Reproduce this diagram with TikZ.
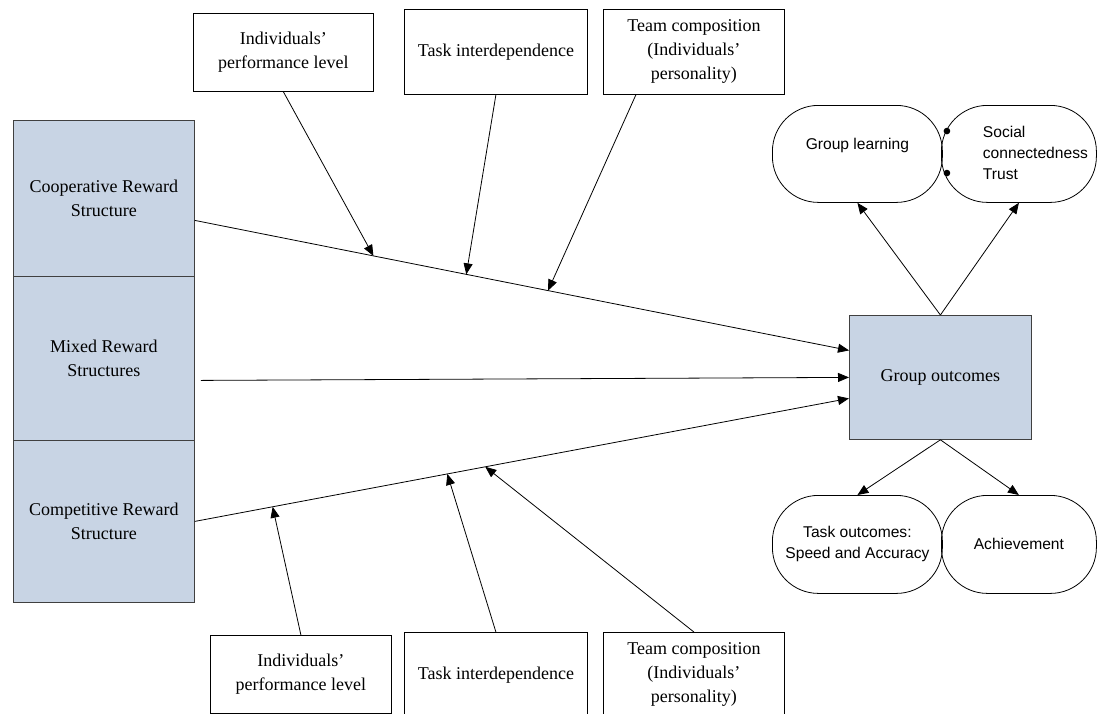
\documentclass[tikz,border=0pt]{standalone}
\usepackage{fontspec}
\setmainfont{Liberation Serif}
\newfontfamily\arialfont{Liberation Sans}
\usetikzlibrary{arrows.meta}
\definecolor{boxblue}{RGB}{200,212,228}
\newcommand{\listdot}{\makebox[33pt][l]{\hspace{-7pt}\raisebox{-2.5pt}{\fontsize{24}{21}\selectfont\textbullet}}}

\begin{document}
\begin{tikzpicture}[x=1pt, y=-1pt,
	every node/.style={font=\fontsize{18}{24}\selectfont, align=center, inner sep=0pt},
	blockbox/.style={draw=black!75, fill=boxblue, line width=0.8pt, minimum width=181pt, anchor=north west},
	factorbox/.style={draw, line width=0.8pt, minimum width=181pt, anchor=north west},
	oval/.style={draw, line width=0.8pt, rounded corners=46pt, minimum height=97pt, anchor=north west, font=\arialfont\fontsize{15.6}{21}\selectfont},
	arr/.style={-{Triangle[length=11pt, width=9pt]}, line width=0.8pt}]
\clip (0,0) rectangle (1098,713);

\node[blockbox, minimum height=156pt] (coop) at (13,120) {Cooperative Reward\\Structure};
\node[blockbox, minimum height=164pt] (mix) at (13,276) {Mixed Reward\\Structures};
\node[blockbox, minimum height=162pt] (comp) at (13,440) {Competitive Reward\\Structure};
\node[blockbox, minimum width=182pt, minimum height=124pt] (out) at (849,315) {Group outcomes};

\node[factorbox, minimum width=180pt, minimum height=78pt] (ti) at (193,13) {Individuals'\\performance level};
\node[factorbox, minimum width=183pt, minimum height=85pt] (tt) at (404,9) {Task interdependence};
\node[factorbox, minimum height=85pt] (tc) at (603,9) {Team composition\\(Individuals'\\personality)};
\node[factorbox, minimum height=78pt] (bi) at (210,635) {Individuals'\\performance level};
\node[factorbox, minimum width=183pt, minimum height=85pt] (bt) at (404,632) {Task interdependence};
\node[factorbox, minimum height=85pt] (bc) at (603,632) {Team composition\\(Individuals'\\personality)};

\node[oval, minimum width=170pt] (learn) at (772,105) {Group learning\\\mbox{}};
\node[oval, minimum width=155pt, align=left] (soc) at (941,105) {\listdot Social\\\hspace*{33pt}connectedness\\\listdot Trust};
\node[oval, minimum width=170pt, minimum height=98pt] (task) at (772,495) {Task outcomes:\\Speed and Accuracy};
\node[oval, minimum width=155pt, minimum height=98pt] (ach) at (941,495) {Achievement};

\draw[arr] ([yshift=-22pt]coop.east) -- ([yshift=27pt]out.west) coordinate[pos=0.273] (p1) coordinate[pos=0.415] (p2) coordinate[pos=0.54] (p3);
\draw[arr] ([xshift=6pt, yshift=-22pt]mix.east) -- (out.west);
\draw[arr] (comp.east) -- ([yshift=-21pt]out.west) coordinate[pos=0.119] (q1) coordinate[pos=0.386] (q2) coordinate[pos=0.444] (q3);

\draw[arr] (ti.south) -- (p1);
\draw[arr] (tt.south) -- (p2);
\draw[arr] ([xshift=-58pt]tc.south) -- (p3);
\draw[arr] (bi.north) -- (q1);
\draw[arr] (bt.north) -- (q2);
\draw[arr] (bc.north) -- (q3);

\foreach \n in {learn,soc}
	\draw[arr] (out.north) -- (\n.south);
\foreach \n in {task,ach}
	\draw[arr] (out.south) -- (\n.north);
\end{tikzpicture}
\end{document}
